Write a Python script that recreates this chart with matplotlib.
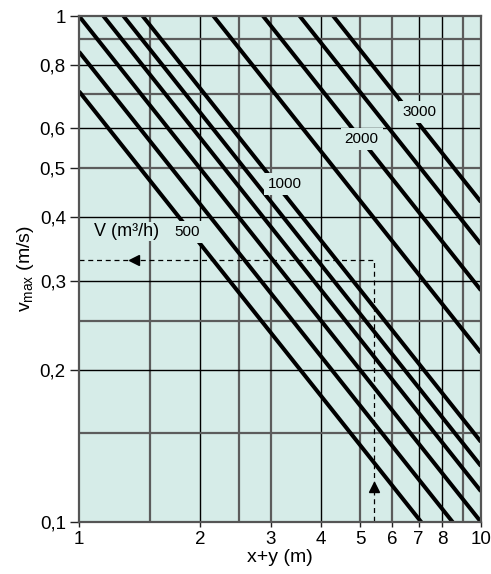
import matplotlib
matplotlib.use('Agg')
import matplotlib.pyplot as plt
from matplotlib.ticker import FixedLocator, NullLocator

plt.rcParams['font.family'] = 'Liberation Sans'

flow_rates = [500, 600, 700, 800, 900, 1000, 1500, 2000, 2500, 3000]
line_const = [0.71, 0.85, 1.0, 1.15, 1.29, 1.44, 2.16, 2.87, 3.54, 4.29]

# beschriftete Kurven: Text, x-Position, v-Position
curve_labels = ['500', '1000', '2000', '3000']
label_x = [1.86, 3.25, 5.05, 7.04]
label_v = [0.374, 0.466, 0.571, 0.645]

# Gitterlinien (schwarz / grau)
grid_x_black = [2, 4, 7, 8]
grid_x_gray = [1.5, 2.5, 3, 5, 6, 9]
grid_v_black = [0.8, 0.6, 0.4, 0.3, 0.2]
grid_v_gray = [0.9, 0.7, 0.5, 0.25, 0.15]

x_ticks = [1, 2, 3, 4, 5, 6, 7, 8, 10]
x_ticklabels = ['1', '2', '3', '4', '5', '6', '7', '8', '10']
v_ticks = [0.1, 0.2, 0.3, 0.4, 0.5, 0.6, 0.8, 1.0]
v_ticklabels = ['0,1', '0,2', '0,3', '0,4', '0,5', '0,6', '0,8', '1']

# Beispiel-Ablesung (gestrichelt)
example_x = [1.0, 5.42, 5.42]
example_v = [0.33, 0.33, 0.1]

bg = '#d6ece8'

fig = plt.figure(figsize=(4.91, 5.74), dpi=100)
ax = fig.add_axes([0.1609, 0.0906, 0.8187, 0.8815])
ax.set_facecolor(bg)
ax.set_xscale('log')
ax.set_yscale('log')
ax.set_xlim(1, 10)
ax.set_ylim(0.1, 1)

for xv in grid_x_black:
    ax.axvline(xv, color='black', lw=1.0, zorder=1)
for xv in grid_x_gray:
    ax.axvline(xv, color='#5c5c5c', lw=1.6, zorder=1)
for yv in grid_v_black:
    ax.axhline(yv, color='black', lw=1.0, zorder=1)
for yv in grid_v_gray:
    ax.axhline(yv, color='#5c5c5c', lw=1.6, zorder=1)

# Kurven v = C / (x+y), Gerade im log-log-Diagramm
for c in line_const:
    ax.plot([1, 10], [c, c / 10], color='black', lw=2.9, zorder=2,
            solid_capstyle='butt')

for txt, lx, lv in zip(curve_labels, label_x, label_v):
    ax.text(lx, lv, txt, fontsize=11, ha='center', va='center', zorder=4,
            bbox=dict(facecolor=bg, edgecolor='none', pad=3))

ax.text(1.316, 0.375, 'V (m³/h)', fontsize=13, ha='center', va='center',
        zorder=4, bbox=dict(facecolor=bg, edgecolor='none', pad=1))

ax.plot(example_x, example_v, color='black', lw=0.9, ls=(0, (4, 3)), zorder=3)
ax.plot([1.37], [0.33], marker='<', color='black', markersize=7, zorder=3)
ax.plot([5.42], [0.117], marker='^', color='black', markersize=7, zorder=3)

ax.xaxis.set_major_locator(FixedLocator(x_ticks))
ax.xaxis.set_minor_locator(NullLocator())
ax.set_xticklabels(x_ticklabels)
ax.yaxis.set_major_locator(FixedLocator(v_ticks))
ax.yaxis.set_minor_locator(NullLocator())
ax.set_yticklabels(v_ticklabels)

ax.tick_params(axis='y', direction='out', length=6.5, width=1.0,
               labelsize=13.5, pad=3, color='#222222')
ax.tick_params(axis='x', direction='out', length=3.5, width=1.0,
               labelsize=13.5, pad=3, color='#222222')

for s in ax.spines.values():
    s.set_color('#555555')
    s.set_linewidth(1.6)
    s.set_zorder(5)

ax.set_xlabel('x+y (m)', fontsize=14, labelpad=1)
ax.set_ylabel(r'$\mathregular{v_{max}}$ (m/s)', fontsize=14, labelpad=3)

fig.savefig('out.png', dpi=100)
